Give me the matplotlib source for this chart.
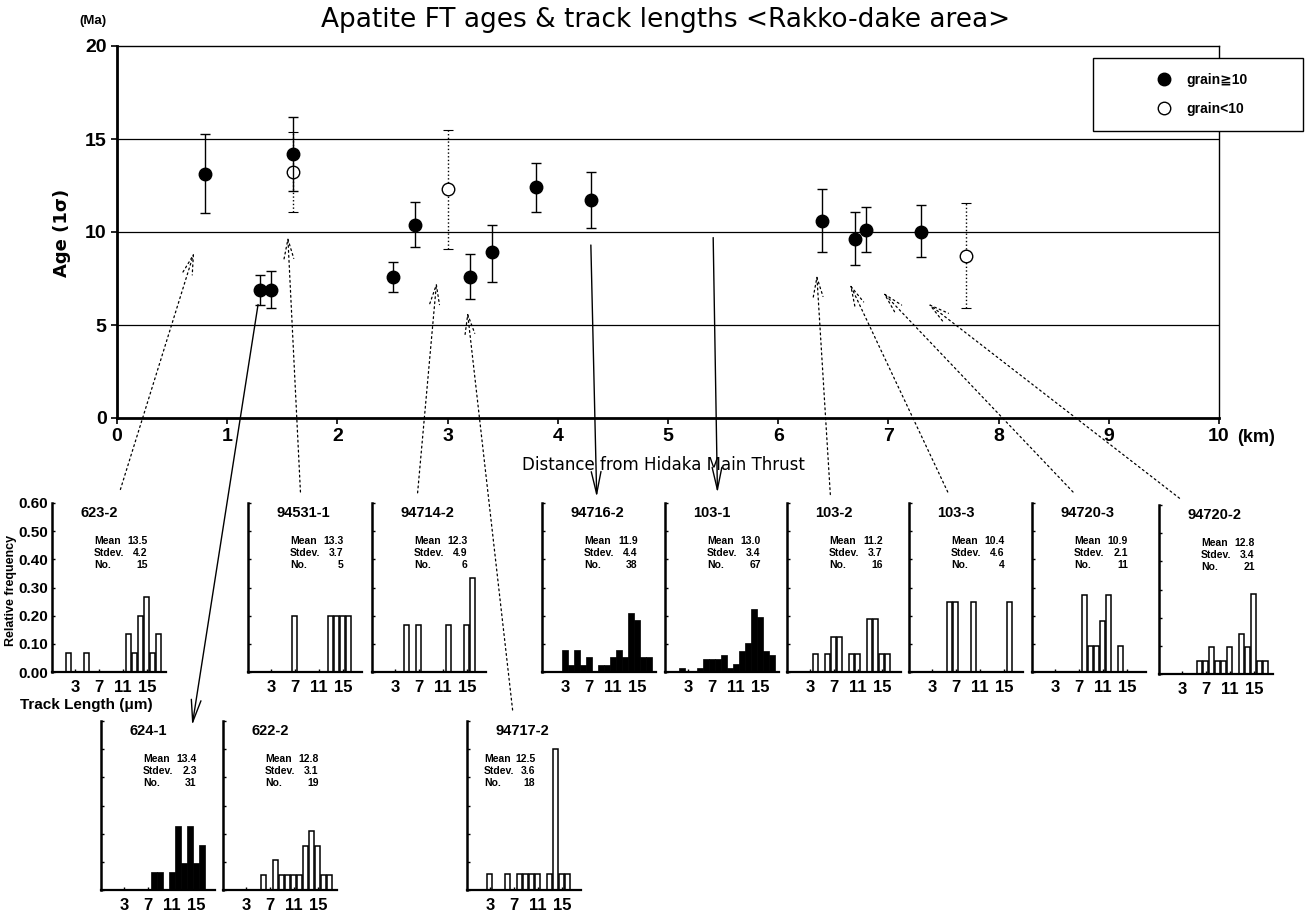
import matplotlib.pyplot as plt
from matplotlib.lines import Line2D
from matplotlib.patches import ConnectionPatch
import numpy as np

plt.rcParams['font.family'] = ['DejaVu Sans', 'Noto Sans CJK JP']
SMALL = ['Liberation Sans', 'DejaVu Sans', 'Noto Sans CJK JP']

# FT ages, samples with >= 10 grains (km from HMT, Ma, 1 sigma range)
dist_full = [0.8, 1.3, 1.4, 1.6, 2.5, 2.7, 3.2, 3.4, 3.8, 4.3, 6.4, 6.7, 6.8, 7.3]
age_full = [13.1, 6.9, 6.9, 14.2, 7.6, 10.4, 7.6, 8.9, 12.4, 11.7, 10.6, 9.6, 10.1, 10.0]
age_full_lo = [11.0, 6.1, 5.9, 12.2, 6.8, 9.2, 6.4, 7.3, 11.1, 10.2, 8.9, 8.2, 8.9, 8.65]
age_full_hi = [15.25, 7.7, 7.9, 16.2, 8.4, 11.6, 8.8, 10.4, 13.7, 13.2, 12.3, 11.05, 11.35, 11.45]

# samples with < 10 grains
dist_few = [1.6, 3.0, 7.7]
age_few = [13.2, 12.3, 8.7]
age_few_lo = [11.1, 9.1, 5.9]
age_few_hi = [15.35, 15.5, 11.55]

# track length histograms (1 um bins)
hist_names = ['623-2', '94531-1', '94714-2', '94716-2', '103-1', '103-2',
              '103-3', '94720-3', '94720-2', '624-1', '622-2', '94717-2']
hist_mean = ['13.5', '13.3', '12.3', '11.9', '13.0', '11.2',
             '10.4', '10.9', '12.8', '13.4', '12.8', '12.5']
hist_stdev = ['4.2', '3.7', '4.9', '4.4', '3.4', '3.7',
              '4.6', '2.1', '3.4', '2.3', '3.1', '3.6']
hist_n = [15, 5, 6, 38, 67, 16, 4, 11, 21, 31, 19, 18]
hist_filled = [False, False, False, True, True, False,
               False, False, False, True, False, False]
hist_bins = [
    [2, 5, 12, 13, 14, 15, 16, 17],
    [7, 13, 14, 15, 16],
    [5, 7, 12, 15, 16],
    [3, 4, 5, 6, 7, 9, 10, 11, 12, 13, 14, 15, 16, 17],
    [2, 5, 6, 7, 8, 9, 10, 11, 12, 13, 14, 15, 16, 17],
    [4, 6, 7, 8, 10, 11, 13, 14, 15, 16],
    [6, 7, 10, 16],
    [8, 9, 10, 11, 12, 14],
    [6, 7, 8, 9, 10, 11, 13, 14, 15, 16, 17],
    [8, 9, 11, 12, 13, 14, 15, 16],
    [6, 8, 9, 10, 11, 12, 13, 14, 15, 16, 17],
    [3, 6, 8, 9, 10, 11, 13, 14, 15, 16],
]
hist_counts = [
    [1, 1, 2, 1, 3, 4, 1, 2],
    [1, 1, 1, 1, 1],
    [1, 1, 1, 1, 2],
    [3, 1, 3, 1, 2, 1, 1, 2, 3, 2, 8, 7, 2, 2],
    [1, 1, 3, 3, 3, 4, 1, 2, 5, 7, 15, 13, 5, 4],
    [1, 1, 2, 2, 1, 1, 3, 3, 1, 1],
    [1, 1, 1, 1],
    [3, 1, 1, 2, 3, 1],
    [1, 1, 2, 1, 1, 2, 3, 2, 6, 1, 1],
    [2, 2, 2, 7, 3, 7, 3, 5],
    [1, 2, 1, 1, 1, 1, 3, 4, 3, 1, 1],
    [1, 1, 1, 1, 1, 1, 1, 9, 1, 1],
]
length_ticks = [3, 7, 11, 15]

W, H = 1309, 911
fig = plt.figure(figsize=(W / 100, H / 100), dpi=100)


def px_box(left, bottom, width, height):
    return [left / W, (H - bottom) / H, width / W, height / H]


# ---- main age plot
ax = fig.add_axes(px_box(117, 418, 1102, 372))
ax.set_xlim(0, 10)
ax.set_ylim(0, 20)
for y in (5, 10, 15):
    ax.axhline(y, color='black', lw=0.9, zorder=1)

ax.errorbar(dist_full, age_full,
            yerr=[np.subtract(age_full, age_full_lo), np.subtract(age_full_hi, age_full)],
            fmt='o', color='black', ms=9, capsize=3.5, elinewidth=1, capthick=1, zorder=3)
eb = ax.errorbar(dist_few, age_few,
                 yerr=[np.subtract(age_few, age_few_lo), np.subtract(age_few_hi, age_few)],
                 fmt='o', color='black', mfc='white', ms=9, capsize=3.5,
                 elinewidth=1, capthick=0.8, zorder=2)
eb[2][0].set_linestyle(':')

ax.set_xticks(range(11))
ax.set_yticks([0, 5, 10, 15, 20])
ax.tick_params(labelsize=14, length=4, width=1.2)
for lab in ax.get_xticklabels() + ax.get_yticklabels():
    lab.set_fontweight('bold')
    lab.set_family(SMALL)
for s in ('left', 'bottom'):
    ax.spines[s].set_linewidth(2)
for s in ('top', 'right'):
    ax.spines[s].set_linewidth(1)

handles = [Line2D([], [], marker='o', ls='', color='black', ms=9),
           Line2D([], [], marker='o', ls='', color='black', mfc='white', ms=9)]
leg = ax.legend(handles, ['grain≧10', 'grain<10'], loc='upper left',
                bbox_to_anchor=(0.886, 0.782, 0.19, 0.187), mode='expand',
                fancybox=False, edgecolor='black', framealpha=1, borderaxespad=0,
                prop={'weight': 'bold', 'size': 10, 'family': SMALL}, handlelength=8,
                handletextpad=-2.4, borderpad=1.1, labelspacing=1.1)
leg.get_frame().set_linewidth(1)

fig.text(666 / W, 1 - 20 / H, 'Apatite FT ages & track lengths <Rakko-dake area>',
         fontsize=19, ha='center', va='center')
fig.text(93 / W, 1 - 21 / H, '(Ma)', fontsize=9.5, fontweight='bold', ha='center',
         va='center', family=SMALL)
fig.text(62 / W, 1 - 233 / H, 'Age (1σ)', fontsize=13, fontweight='bold',
         rotation=90, ha='center', va='center')
fig.text(1256 / W, 1 - 438 / H, '(km)', fontsize=13, fontweight='bold', ha='center',
         va='center', family=SMALL)
fig.text(663 / W, 1 - 465 / H, 'Distance from Hidaka Main Thrust', fontsize=12,
         ha='center', va='center')

# ---- track length panels
panel_left = [52, 248, 372, 542, 665, 787, 909, 1032, 1159, 101, 223, 467]
panel_bottom = [672, 672, 672, 672, 672, 672, 672, 672, 674, 890, 890, 890]
stats_x = [(0.37, 0.84)] * 11 + [(0.15, 0.60)]
panels = []
for i, name in enumerate(hist_names):
    pa = fig.add_axes(px_box(panel_left[i], panel_bottom[i], 114, 169))
    freq = np.array(hist_counts[i]) / hist_n[i]
    if hist_filled[i]:
        pa.bar(hist_bins[i], freq, width=1.0, color='black', edgecolor='black', lw=0.5)
    else:
        pa.bar(hist_bins[i], freq, width=0.85, color='white', edgecolor='black', lw=1.1)
    pa.set_xlim(-0.8, 18.2)
    pa.set_ylim(0, 0.6)
    pa.set_xticks(length_ticks)
    pa.set_yticks(np.arange(0, 0.61, 0.1))
    pa.tick_params(direction='in', length=2, width=1, labelsize=12)
    pa.tick_params(axis='x', pad=6)
    for lab in pa.get_xticklabels():
        lab.set_fontweight('bold')
        lab.set_family(SMALL)
    if i == 0:
        pa.set_yticklabels(['%.2f' % v for v in np.arange(0, 0.61, 0.1)],
                           fontweight='bold', family=SMALL)
        pa.tick_params(axis='y', labelsize=11, pad=3)
    else:
        pa.set_yticklabels([])
    pa.spines['top'].set_visible(False)
    pa.spines['right'].set_visible(False)
    pa.spines['left'].set_linewidth(1.8)
    pa.spines['bottom'].set_linewidth(1.6)
    pa.patch.set_alpha(0)
    pa.text(0.25, 0.94, name, transform=pa.transAxes, fontsize=10.5, fontweight='bold',
            va='center', family=SMALL)
    stats_l = 'Mean\nStdev.\nNo.'
    stats_r = '%s\n%s\n%d' % (hist_mean[i], hist_stdev[i], hist_n[i])
    sx0, sx1 = stats_x[i]
    pa.text(sx0, 0.805, stats_l, transform=pa.transAxes, fontsize=7.5, fontweight='bold',
            va='top', ha='left', linespacing=1.25, family=SMALL)
    pa.text(sx1, 0.805, stats_r, transform=pa.transAxes, fontsize=7.5, fontweight='bold',
            va='top', ha='right', linespacing=1.25, family=SMALL)
    panels.append(pa)

fig.text(11 / W, 1 - 590 / H, 'Relative frequency', fontsize=9, fontweight='bold',
         rotation=90, ha='center', va='center', family=SMALL)
fig.text(20 / W, 1 - 705 / H, 'Track Length (μm)', fontsize=11, fontweight='bold',
         ha='left', va='center', family=SMALL)

# ---- arrows from the age plot to the histograms
# dotted ones: tail above the panel (axes fraction), head in the age plot (km, Ma)
dotted_panel = [0, 1, 2, 11, 5, 6, 7, 8]
dotted_tail = [(0.6, 1.08), (0.46, 1.065), (0.40, 1.06), (0.40, 1.065),
               (0.38, 1.05), (0.34, 1.065), (0.36, 1.065), (0.18, 1.04)]
dotted_head = [(0.70, 8.9), (1.55, 9.75), (2.9, 7.3), (3.18, 5.7),
               (6.35, 7.7), (6.65, 7.2), (6.95, 6.75), (7.36, 6.15)]
for p, tail, head in zip(dotted_panel, dotted_tail, dotted_head):
    con = ConnectionPatch(xyA=tail, coordsA=panels[p].transAxes,
                          xyB=head, coordsB=ax.transData,
                          arrowstyle='->,head_length=1.4,head_width=0.35',
                          linestyle=(0, (1.5, 2.5)), lw=0.9, color='black')
    fig.add_artist(con)

# solid ones: start in the age plot, head on the panel
solid_panel = [9, 3, 4]
solid_tail = [(1.28, 6.1), (4.3, 9.3), (5.41, 9.7)]
solid_head = [(0.80, 0.975), (0.48, 1.035), (0.46, 1.06)]
for p, tail, head in zip(solid_panel, solid_tail, solid_head):
    con = ConnectionPatch(xyA=tail, coordsA=ax.transData,
                          xyB=head, coordsB=panels[p].transAxes,
                          arrowstyle='->,head_length=1.6,head_width=0.35',
                          lw=1.0, color='black')
    fig.add_artist(con)

fig.savefig('out.png', dpi=100)
